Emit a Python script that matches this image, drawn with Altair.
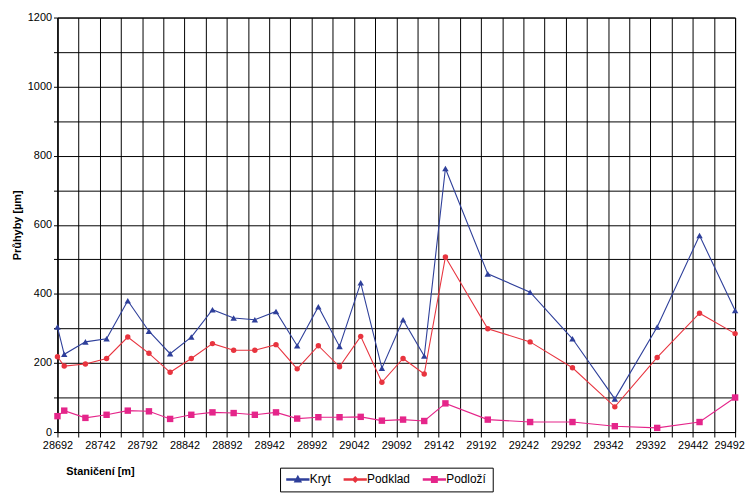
import altair as alt
import pandas as pd

stations = [28692, 28700, 28725, 28750, 28775, 28800, 28825, 28850, 28875, 28900,
            28925, 28950, 28975, 29000, 29025, 29050, 29075, 29100, 29125, 29150,
            29200, 29250, 29300, 29350, 29400, 29450, 29492]
kryt = [304, 225, 261, 270, 380, 292, 227, 275, 354, 330, 325, 349, 250, 363, 248,
        432, 185, 325, 220, 763, 458, 405, 270, 96, 304, 569, 352]
podklad = [218, 191, 197, 213, 275, 228, 173, 213, 256, 237, 237, 253, 183, 250, 189,
           277, 144, 213, 168, 507, 299, 261, 186, 73, 216, 344, 285]
podlozi = [46, 62, 41, 50, 62, 60, 38, 50, 57, 55, 50, 57, 39, 43, 43, 44, 33, 36,
           32, 83, 36, 29, 29, 17, 12, 29, 100]

series_names = ["Kryt", "Podklad", "Podloží"]
series_colors = ["#2e3f9a", "#e8343f", "#e5258a"]
series_shapes = ["triangle-up", "circle", "square"]
series_sizes = [42, 30, 42]
# legend symbols: short line (thin bar) with the series marker in the middle
legend_shapes = [
    "M-2.2,-0.1H2.2V0.1H-2.2ZM0,-0.65L0.6,0.45L-0.6,0.45Z",
    "M-2.2,-0.1H2.2V0.1H-2.2ZM0,-0.5L0.5,0L0,0.5L-0.5,0Z",
    "M-2.2,-0.1H2.2V0.1H-2.2ZM-0.55,-0.55H0.55V0.55H-0.55Z",
]

x_ticks = list(range(28692, 29493, 25))
y_ticks = list(range(0, 1201, 100))

rows = []
for name, vals in zip(series_names, [kryt, podklad, podlozi]):
    for s, v in zip(stations, vals):
        rows.append({"stanice": s, "hodnota": v, "serie": name})
df = pd.DataFrame(rows)

x_enc = alt.X(
    "stanice:Q",
    scale=alt.Scale(domain=[28692, 29492], nice=False, zero=False),
    axis=alt.Axis(
        title="Staničení [m]",
        values=x_ticks,
        format="d",
        labelExpr="(datum.value - 28692) % 50 == 0 ? datum.label : ''",
        labelOffset={"condition": {"test": "datum.value == 29492", "value": -6}, "value": 0},
        grid=True,
        titleX=43,
        titleY=40,
        titleAlign="center",
        titleBaseline="middle",
        tickSize=5,
        labelPadding=3,
        labelFlush=False,
        labelOverlap=False,
    ),
)
y_enc = alt.Y(
    "hodnota:Q",
    scale=alt.Scale(domain=[0, 1200], nice=False),
    axis=alt.Axis(
        title="Průhyby [µm]",
        values=y_ticks,
        format="d",
        labelExpr="datum.value % 200 == 0 ? datum.label : ''",
        grid=True,
        tickSize=4,
        labelPadding=2,
        titlePadding=5,
    ),
)
color_enc = alt.Color(
    "serie:N",
    scale=alt.Scale(domain=series_names, range=series_colors),
    legend=alt.Legend(title=None),
)

base = alt.Chart(df)

lines = base.mark_line(strokeWidth=1.1).encode(
    x=x_enc, y=y_enc, color=color_enc, detail="serie:N",
)

point_layers = []
for name, shp, sz in zip(series_names, series_shapes, series_sizes):
    point_layers.append(
        base.transform_filter(alt.datum.serie == name)
        .mark_point(filled=True, size=sz, opacity=1, shape=shp)
        .encode(x=x_enc, y=y_enc, color=color_enc)
    )

# layer that only supplies the legend symbols (no data rows drawn)
legend_layer = (
    base.transform_filter("false")
    .mark_point(filled=True, opacity=1)
    .encode(
        x=x_enc,
        y=y_enc,
        color=color_enc,
        shape=alt.Shape(
            "serie:N",
            scale=alt.Scale(domain=series_names, range=legend_shapes),
            legend=alt.Legend(title=None),
        ),
    )
)

chart = (
    alt.layer(lines, *point_layers, legend_layer)
    .properties(
        width=685,
        height=419,
        autosize=alt.AutoSizeParams(type="none"),
        padding={"left": 50, "top": 7, "right": 10, "bottom": 63},
        background="white",
    )
    .configure_view(stroke="black", strokeWidth=1)
    .configure_axis(
        domainColor="black",
        tickColor="black",
        gridColor="black",
        gridOpacity=1,
        gridWidth=1,
        labelFont="Liberation Sans",
        labelFontSize=11,
        labelColor="black",
        titleFont="Liberation Sans",
        titleFontSize=11,
        titleFontWeight="bold",
        titleColor="black",
    )
    .configure_legend(
        orient="none",
        legendX=225,
        legendY=455,
        direction="horizontal",
        columns=3,
        strokeColor="black",
        fillColor="white",
        padding=6,
        labelFont="Liberation Sans",
        labelFontSize=12,
        labelColor="black",
        symbolSize=100,
        symbolOffset=6,
        labelOffset=6,
        columnPadding=10,
    )
)

chart.save("out.html", embed_options={"renderer": "svg", "actions": False})
